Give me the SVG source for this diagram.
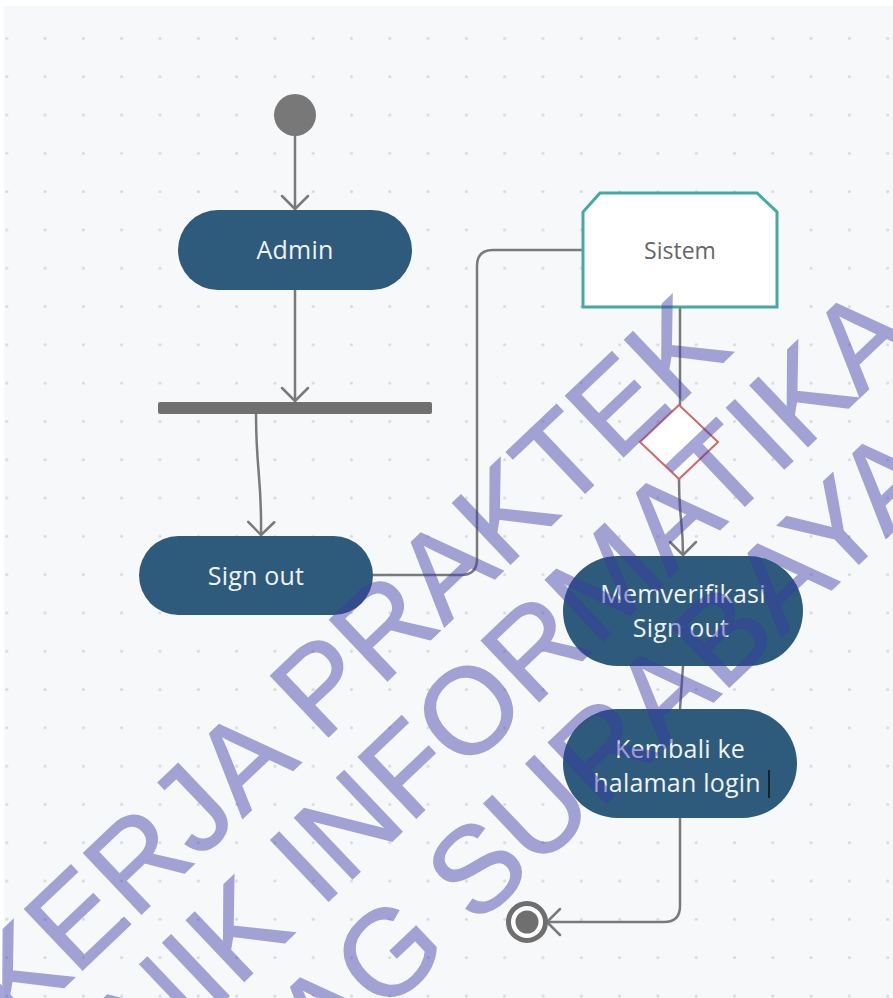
<svg xmlns="http://www.w3.org/2000/svg" width="893" height="998" viewBox="0 0 893 998">
<style>
.node{fill:#2e5a7c}
.lbl{font-family:"Open Sans","Noto Sans",sans-serif;font-size:25px;fill:#eef3f7;text-anchor:middle;letter-spacing:0.2px}
.edge{fill:none;stroke:#7a7a7a;stroke-width:2.5;stroke-linecap:round;stroke-linejoin:round}
.wm{font-family:"Liberation Sans",Arial,sans-serif;font-size:122px;fill:#3a3aa8;stroke:#3a3aa8;stroke-width:1.5}
</style>
<defs>
<pattern id="dots" patternUnits="userSpaceOnUse" x="-12.35" y="19.25" width="38.3" height="38.3">
<circle cx="19.15" cy="19.15" r="1.5" fill="#d6d8dd"/>
</pattern>
<marker id="arr" markerUnits="userSpaceOnUse" viewBox="-16 -16 32 32" markerWidth="32" markerHeight="32" refX="0" refY="0" orient="auto">
<path d="M-13,-13 L0,0 L-13,13" fill="none" stroke="#7a7a7a" stroke-width="2.5" stroke-linecap="round" stroke-linejoin="round"/>
</marker>
</defs>
<rect x="0" y="0" width="893" height="998" fill="#ffffff"/>
<rect x="4" y="6" width="889" height="992" fill="#f7f8fa"/>
<rect x="4" y="6" width="889" height="992" fill="url(#dots)"/>

<g id="connectors">
<path class="edge" d="M295,136 L295,209" marker-end="url(#arr)"/>
<path class="edge" d="M295,290 L295,401" marker-end="url(#arr)"/>
<path class="edge" d="M256,414 C256,470 262,480 261,535" marker-end="url(#arr)"/>
<path class="edge" d="M373,575 L461,575 Q477,575 477,559 L477,266 Q477,250 493,250 L583,250"/>
<path class="edge" d="M680,307 L680,405"/>
<path class="edge" d="M679,479 C679,520 683,520 683,555" marker-end="url(#arr)"/>
<path class="edge" d="M683,666 L680,709"/>
<path class="edge" d="M680,818 L680,906 Q680,922 664,922 L547,922" marker-end="url(#arr)"/>
</g>

<g id="start"><circle cx="295" cy="115" r="21" fill="#787878"/></g>
<g id="admin"><rect class="node" x="178" y="210" width="234" height="80" rx="40"/><text class="lbl" x="295" y="259">Admin</text></g>
<g id="fork"><rect x="158" y="402" width="274" height="12" rx="2" fill="#707070"/></g>
<g id="signout"><rect class="node" x="139" y="536" width="234" height="79" rx="39.5"/><text class="lbl" x="256" y="585">Sign out</text></g>
<g id="sistem"><polygon points="583,212 600,193 757,193 777,212 777,307 583,307" fill="#ffffff" stroke="#44a9a3" stroke-width="3"/><text x="680" y="259" font-family="'Open Sans','Noto Sans',sans-serif" font-size="23" fill="#666666" text-anchor="middle">Sistem</text></g>
<g id="decision"><polygon points="679,405 718,442 679,479 640,442" fill="#ffffff" stroke="#cf6b6b" stroke-width="2"/></g>
<g id="verify"><rect class="node" x="563" y="556" width="240" height="110" rx="55"/><text class="lbl" x="683" y="603">Memverifikasi</text><text class="lbl" x="681" y="637">Sign out</text></g>
<g id="kembali"><rect class="node" x="563" y="709" width="234" height="109" rx="54.5"/><text class="lbl" x="680" y="758">Kembali ke</text><text class="lbl" x="677" y="792">halaman login</text><line x1="769" y1="770" x2="769" y2="798" stroke="#111111" stroke-width="1.5"/></g>
<g id="end"><circle cx="527" cy="922" r="18.5" fill="#ffffff" stroke="#6f6f6f" stroke-width="5"/><circle cx="527" cy="922" r="11.5" fill="#6f6f6f"/></g>

<g id="watermark" opacity="0.45">
<text class="wm" transform="translate(16.3,1032.8) rotate(-43.5)">KERJA PRAKTEK</text>
<text class="wm" transform="translate(148.5,1072.1) rotate(-43.5)">NIK INFORMATIKA</text>
<text class="wm" transform="translate(323.6,1071.7) rotate(-43.5)">AG SURABAYA</text>
</g>
</svg>
